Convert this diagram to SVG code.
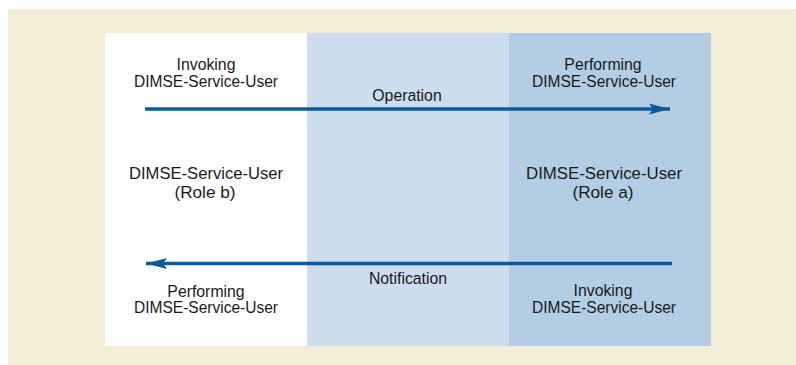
<svg xmlns="http://www.w3.org/2000/svg" width="796" height="365" viewBox="0 0 796 365">
<style>
text{font-family:"Liberation Sans",Arial,Helvetica,sans-serif;fill:#1a1a1a;text-anchor:middle}
.s{font-size:15.8px}
.m{font-size:17.2px}
.arr{stroke:#0b5a9c;stroke-width:3.5;fill:none}
</style>
<defs>
<marker id="ah" markerUnits="userSpaceOnUse" markerWidth="22" markerHeight="12" refX="21" refY="6" orient="auto">
<path d="M0,0.5 L21,6 L0,11.5 L4,6 Z" fill="#0b5a9c"/>
</marker>
</defs>
<rect x="8" y="9" width="788" height="356" fill="#f3ecd7"/>
<g id="role-b">
<rect x="105" y="33" width="202" height="313" fill="#ffffff"/>
<text class="m" x="206" y="179" textLength="154" lengthAdjust="spacingAndGlyphs">DIMSE-Service-User</text>
<text class="m" x="205" y="198">(Role b)</text>
</g>
<g id="channel">
<rect x="307" y="33" width="202" height="313" fill="#ccddee"/>
</g>
<g id="role-a">
<rect x="509" y="33" width="202" height="313" fill="#b3cde5"/>
<text class="m" x="604" y="179" textLength="156" lengthAdjust="spacingAndGlyphs">DIMSE-Service-User</text>
<text class="m" x="603" y="198">(Role a)</text>
</g>
<g id="invoking-left">
<text class="s" x="206" y="70">Invoking</text>
<text class="s" x="206" y="87" textLength="144" lengthAdjust="spacingAndGlyphs">DIMSE-Service-User</text>
</g>
<g id="performing-right">
<text class="s" x="603" y="70">Performing</text>
<text class="s" x="604" y="87" textLength="144" lengthAdjust="spacingAndGlyphs">DIMSE-Service-User</text>
</g>
<g id="performing-left">
<text class="s" x="206" y="297">Performing</text>
<text class="s" x="206" y="313" textLength="144" lengthAdjust="spacingAndGlyphs">DIMSE-Service-User</text>
</g>
<g id="invoking-right">
<text class="s" x="603" y="296">Invoking</text>
<text class="s" x="604" y="313" textLength="144" lengthAdjust="spacingAndGlyphs">DIMSE-Service-User</text>
</g>
<g id="connectors">
<line class="arr" x1="145" y1="109" x2="670" y2="109" marker-end="url(#ah)"/>
<text class="s" x="407" y="101">Operation</text>
<line class="arr" x1="672" y1="263.5" x2="146" y2="263.5" marker-end="url(#ah)"/>
<text class="s" x="408" y="284">Notification</text>
</g>
</svg>
